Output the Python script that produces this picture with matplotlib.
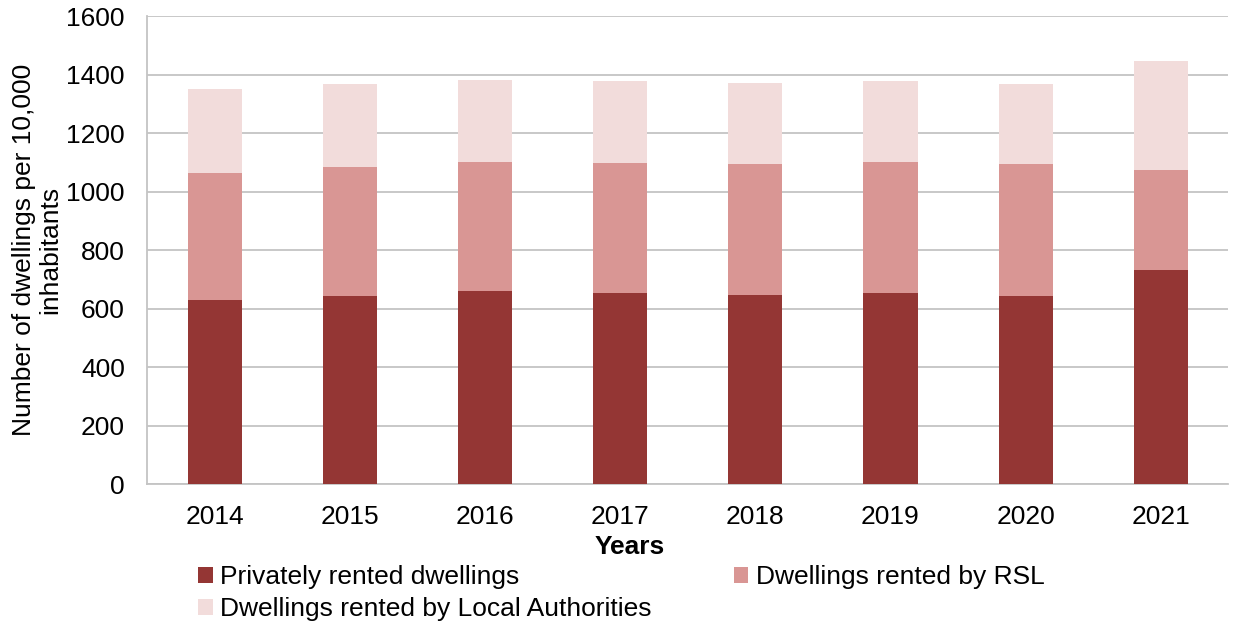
import numpy as np
import matplotlib.pyplot as plt

plt.rcParams['font.family'] = ['Liberation Sans', 'DejaVu Sans']

years = ['2014', '2015', '2016', '2017', '2018', '2019', '2020', '2021']
private = [628, 644, 662, 654, 647, 653, 644, 733]
rsl = [436, 441, 438, 443, 447, 447, 450, 340]
local_auth = [286, 284, 281, 281, 279, 279, 276, 375]

c_private = '#943634'
c_rsl = '#D99694'
c_la = '#F2DCDB'

fs = 19

fig = plt.figure(figsize=(12.37, 6.27), dpi=100)
ax = fig.add_axes([0.119, 0.228, 0.874, 0.746])

x = np.arange(len(years))
w = 0.4
b1 = ax.bar(x, private, w, color=c_private, label='Privately rented dwellings', zorder=3)
b2 = ax.bar(x, rsl, w, bottom=private, color=c_rsl, label='Dwellings rented by RSL', zorder=3)
bottom2 = np.array(private) + np.array(rsl)
b3 = ax.bar(x, local_auth, w, bottom=bottom2, color=c_la,
            label='Dwellings rented by Local Authorities', zorder=3)

ax.set_xlim(-0.5, len(years) - 0.5)
ax.set_ylim(0, 1600)
ax.set_yticks(range(0, 1601, 200))
ax.set_xticks(x)
ax.set_xticklabels(years)
ax.tick_params(axis='both', length=0, labelsize=fs, colors='black')
ax.tick_params(axis='x', pad=15)
ax.tick_params(axis='y', pad=16)
ax.yaxis.grid(True, color='#C4C4C4', linewidth=1.3, zorder=0)

for s in ['top', 'right']:
    ax.spines[s].set_visible(False)
for s in ['left', 'bottom']:
    ax.spines[s].set_color('#C4C4C4')
    ax.spines[s].set_linewidth(1.3)

ax.set_ylabel('Number of dwellings per 10,000\ninhabitants', fontsize=fs, linespacing=1.1)
ax.yaxis.set_label_coords(-0.079, 0.5)

fig.text(630 / 1237, 1 - 547 / 627, 'Years', fontsize=fs, fontweight='bold',
         ha='center', va='center')

fig.legend([b1, b3, b2],
           ['Privately rented dwellings', 'Dwellings rented by Local Authorities',
            'Dwellings rented by RSL'],
           ncol=2, loc='upper left', bbox_to_anchor=(198 / 1237, 1 - 565 / 627),
           frameon=False, fontsize=fs, handlelength=0.55, handleheight=0.55,
           handletextpad=0.3, columnspacing=3.1, labelspacing=0.3,
           borderpad=0, borderaxespad=0)

fig.savefig('out.png', dpi=100)
